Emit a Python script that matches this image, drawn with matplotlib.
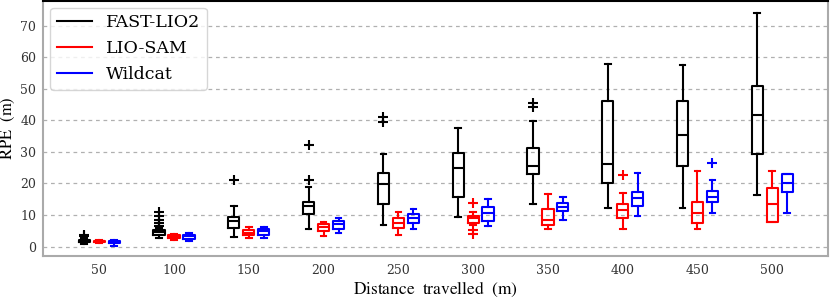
import numpy as np
import matplotlib
matplotlib.use("Agg")
import matplotlib.pyplot as plt
from matplotlib.lines import Line2D

plt.rcParams["font.family"] = ["DejaVu Serif"]
plt.rcParams["mathtext.fontset"] = "stix"

distances = [50, 100, 150, 200, 250, 300, 350, 400, 450, 500]
methods = ["FAST-LIO2", "LIO-SAM", "Wildcat"]
colors = ["black", "red", "blue"]

# per distance: (whislo, q1, med, q3, whishi)
fastlio_stats = [
    (0.8, 1.4, 1.8, 2.2, 2.8),
    (2.6, 3.8, 4.5, 5.3, 6.0),
    (3.1, 6.0, 8.0, 9.3, 13.0),
    (5.5, 10.2, 12.9, 14.2, 19.0),
    (6.8, 13.5, 19.7, 23.2, 29.2),
    (9.3, 15.6, 24.9, 29.8, 37.7),
    (13.4, 22.9, 25.5, 31.4, 39.8),
    (12.3, 20.0, 26.1, 46.1, 57.9),
    (12.2, 25.6, 35.3, 46.0, 57.5),
    (16.2, 29.2, 41.8, 51.0, 74.2),
]
fastlio_fliers = [
    [3.3, 3.6],
    [6.5, 7.5, 8.5, 9.6, 10.8],
    [21.2],
    [21.0, 32.2],
    [39.6, 41.2],
    [],
    [44.3, 45.6],
    [],
    [],
    [],
]

liosam_stats = [
    (1.0, 1.3, 1.6, 1.9, 2.1),
    (2.0, 2.6, 3.0, 3.5, 4.0),
    (2.7, 3.6, 4.4, 5.3, 6.2),
    (3.4, 5.0, 6.1, 7.1, 7.9),
    (3.8, 6.0, 7.6, 9.1, 11.0),
    (6.9, 7.6, 9.0, 9.7, 11.1),
    (5.6, 6.9, 8.4, 11.9, 16.6),
    (5.5, 9.0, 11.6, 13.4, 17.1),
    (5.4, 7.4, 10.5, 14.2, 24.1),
    (7.7, 7.7, 13.5, 18.5, 24.0),
]
liosam_fliers = [[], [], [], [], [], [13.9, 5.3, 4.0], [], [22.6], [], []]

wildcat_stats = [
    (0.3, 1.1, 1.4, 1.7, 2.0),
    (1.6, 2.5, 3.2, 3.6, 4.3),
    (2.8, 3.8, 4.8, 5.5, 6.1),
    (4.3, 5.6, 7.1, 8.1, 9.0),
    (5.7, 7.6, 9.0, 10.3, 12.0),
    (6.6, 8.2, 10.5, 12.4, 15.1),
    (8.4, 11.3, 12.6, 13.7, 15.8),
    (9.8, 13.0, 15.3, 17.4, 23.4),
    (10.5, 14.0, 15.8, 17.7, 21.1),
    (10.5, 17.2, 20.0, 23.1, 23.1),
]
wildcat_fliers = [[], [], [], [], [], [], [], [], [26.5], []]

all_stats = [fastlio_stats, liosam_stats, wildcat_stats]
all_fliers = [fastlio_fliers, liosam_fliers, wildcat_fliers]
offsets = [-0.2, 0.0, 0.2]


def make_bxp(stats, fliers):
    out = []
    for (lo, q1, med, q3, hi), fl in zip(stats, fliers):
        out.append(dict(whislo=lo, q1=q1, med=med, q3=q3, whishi=hi, fliers=fl))
    return out


fig = plt.figure(figsize=(8.3, 2.98), dpi=100)
ax = fig.add_axes([0.052, 0.141, 0.946, 0.857])

base = np.arange(1, len(distances) + 1)
for stats, fliers, col, off in zip(all_stats, all_fliers, colors, offsets):
    lw = 1.5
    ax.bxp(
        make_bxp(stats, fliers),
        positions=base + off,
        widths=0.15,
        manage_ticks=False,
        boxprops=dict(color=col, linewidth=lw),
        whiskerprops=dict(color=col, linewidth=lw),
        capprops=dict(color=col, linewidth=lw),
        medianprops=dict(color=col, linewidth=lw),
        flierprops=dict(marker="+", markeredgecolor=col, markersize=7, markeredgewidth=1.5),
    )

ax.set_xticks(base)
ax.set_xticklabels([str(d) for d in distances])
ax.set_xlim(0.25, 10.75)
ax.set_ylim(-3, 78)
ax.set_yticks(range(0, 80, 10))
ax.tick_params(axis="x", length=0, labelsize=9, pad=6, colors="#333333")
ax.tick_params(axis="y", length=0, labelsize=9, pad=5, colors="#333333")
ax.yaxis.grid(True, linestyle=(0, (3, 3)), color="#b0b0b0", linewidth=0.9)
ax.set_axisbelow(True)

for side in ["left", "bottom", "right"]:
    ax.spines[side].set_color("#aaaaaa")
    ax.spines[side].set_linewidth(1.5)
ax.spines["top"].set_color("black")
ax.spines["top"].set_linewidth(1.5)

ax.set_xlabel(r"$\mathrm{Distance\ \ travelled\ \ (m)}$", fontsize=12.5, labelpad=2)
ax.set_ylabel(r"$\mathrm{RPE\ \ (m)}$", fontsize=12, labelpad=2)

handles = [Line2D([0], [0], color=c, linewidth=1.5) for c in colors]
ax.legend(handles, methods, loc="upper left", fontsize=12.5, framealpha=0.8,
          borderaxespad=0.4, handletextpad=0.8)

fig.savefig("out.png", dpi=100)
